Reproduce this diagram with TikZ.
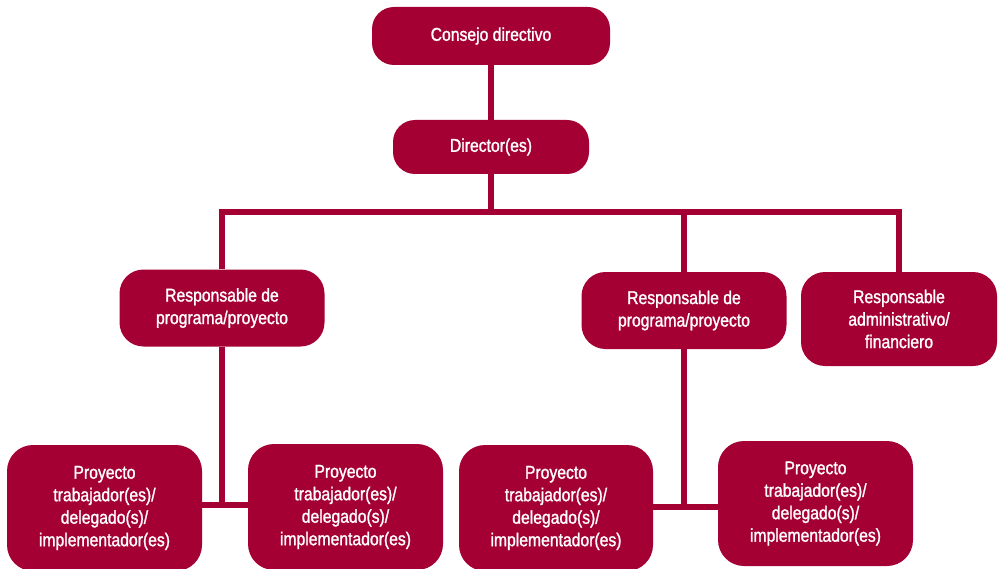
\documentclass[tikz,border=0pt]{standalone}
\usepackage{fontspec}
\setmainfont{Liberation Sans}[FakeStretch=0.85,FakeBold=1.3]
\definecolor{wine}{HTML}{A50034}
\begin{document}
\begin{tikzpicture}[x=1pt,y=-1pt,
  box/.style={rectangle, rounded corners=24pt, fill=wine, draw=none, text=white,
    align=center, inner sep=0pt, font=\fontsize{18.5}{22.5}\selectfont},
  conn/.style={draw=wine, line width=5.5pt, line join=miter}]
\useasboundingbox (0,0) rectangle (1000,569);
% boxes
\node[box, minimum width=238pt, minimum height=58pt, rounded corners=22pt] (cons) at (491,36) {Consejo directivo};
\node[box, minimum width=196pt, minimum height=54pt, rounded corners=22pt] (dir) at (491,147) {Director(es)};
\node[box, minimum width=205pt, minimum height=77pt] (rp1) at (222,308) {Responsable de\\programa/proyecto};
\node[box, minimum width=205pt, minimum height=77pt] (rp2) at (684,310.5) {Responsable de\\programa/proyecto};
\node[box, minimum width=196pt, minimum height=94pt] (ra) at (899,319) {Responsable\\administrativo/\\financiero};
\node[box, minimum width=195pt, minimum height=126pt, rounded corners=26pt] (b1) at (104.5,508) {Proyecto\\trabajador(es)/\\delegado(s)/\\implementador(es)};
\node[box, minimum width=195pt, minimum height=126pt, rounded corners=26pt] (b2) at (345.5,507) {Proyecto\\trabajador(es)/\\delegado(s)/\\implementador(es)};
\node[box, minimum width=194pt, minimum height=126pt, rounded corners=26pt] (b3) at (556,508) {Proyecto\\trabajador(es)/\\delegado(s)/\\implementador(es)};
\node[box, minimum width=195pt, minimum height=125pt, rounded corners=26pt] (b4) at (815.5,503.5) {Proyecto\\trabajador(es)/\\delegado(s)/\\implementador(es)};
% junction coordinates
\coordinate (bar) at (0,212);
\coordinate (j1) at (223,505);
\coordinate (j2) at (684,507);
% connectors
\draw[conn] (cons.south) -- (dir.north);
\draw[conn] (dir.south) -- (dir.south |- bar);
\draw[conn] (rp1.north) |- (ra.north |- bar) -- (ra.north);
\draw[conn] (rp2.north) -- (rp2.north |- bar);
\draw[conn] (rp1.south) -- (rp1.south |- j1);
\draw[conn] (b1.east |- j1) -- (b2.west |- j1);
\draw[conn] (rp2.south) -- (rp2.south |- j2);
\draw[conn] (b3.east |- j2) -- (b4.west |- j2);
\end{tikzpicture}
\end{document}
